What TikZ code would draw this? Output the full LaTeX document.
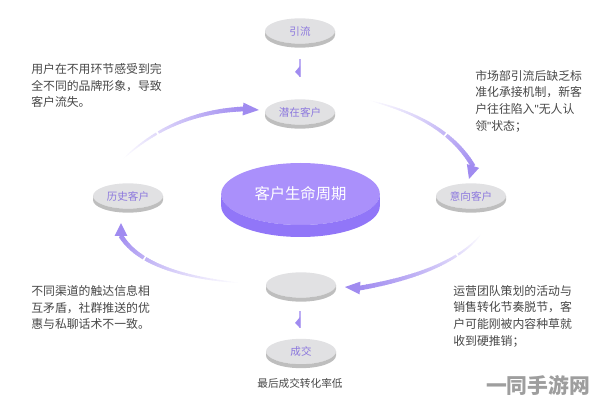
\documentclass[tikz,border=0pt]{standalone}
\usepackage{fontspec}
\setmainfont{Noto Sans CJK SC}
\newfontfamily\quotefont{Liberation Sans}
\usetikzlibrary{calc,shapes.geometric}

\definecolor{sweep}{HTML}{A08BF0}
\definecolor{disctop}{HTML}{E1E1E3}
\definecolor{discside}{HTML}{BEBEBE}
\definecolor{hubtop}{HTML}{AA90FB}
\definecolor{hubside}{HTML}{9176F8}
\definecolor{disclabel}{HTML}{8C78DE}
\definecolor{note}{HTML}{474747}

\newcommand{\qt}{{\quotefont\symbol{34}}}

% tail, control, neck, tip, index of the missing piece
\newcommand{\sweeparrow}[5]{
    \foreach \i in {0,...,49}{
        \pgfmathsetmacro{\t}{\i/50}
        \pgfmathsetmacro{\u}{(\i+1.2)/50}
        \pgfmathtruncatemacro{\shadeval}{100*\t^0.95}
        \pgfmathsetmacro{\widthval}{0.2+3.4*\t^0.6}
        \ifnum\i=#5\else
            \draw[line width=\widthval pt, draw=sweep!\shadeval!white]
                ($($(#1)!\t!(#2)$)!\t!($(#2)!\t!(#3)$)$) -- ($($(#1)!\u!(#2)$)!\u!($(#2)!\u!(#3)$)$);
        \fi
    }
    \fill[sweep] (#4) -- ($(#3)!4.8pt!90:(#4)$) -- ($(#3)!4.8pt!-90:(#4)$) -- cycle;
}

\begin{document}
\begin{tikzpicture}[
    x=0.75pt, y=-0.75pt,
    disc/.style={ellipse, fill=disctop, minimum width=52.5pt, minimum height=19pt, inner sep=0pt, outer sep=0pt,
        text=disclabel, font=\fontsize{7.9}{10}\selectfont},
    hub/.style={ellipse, fill=hubtop, minimum width=119pt, minimum height=46.5pt, inner sep=0pt, outer sep=0pt,
        text=white, font=\fontsize{11.5}{14}\selectfont},
    notebox/.style={anchor=north west, align=left, inner sep=0pt, text=note, font=\fontsize{8.9}{12.5}\selectfont},
    feed/.style={line width=0.8pt, draw=sweep!70!white},
    feedhead/.style={fill=sweep}
]
    \useasboundingbox (0,0) rectangle (594,403);

    \node[disc] (yinliu) at (300,31) {引流};
    \node[disc] (qianzai) at (300,112) {潜在客户};
    \node[disc] (lishi) at (128,196) {历史客户};
    \node[disc] (yixiang) at (471,196) {意向客户};
    \node[disc] (blank) at (301,285) {};
    \node[disc] (chengjiao) at (301,351.5) {成交};
    \node[hub] (hub) at (300.5,194) {客户生命周期};

    \foreach \n in {yinliu,qianzai,lishi,yixiang,blank,chengjiao}
        \fill[discside] (\n.west) -- ++(0,4) arc[start angle=180, end angle=360, x radius=26.25pt, y radius=9.5pt]
            -- (\n.east) arc[start angle=0, end angle=-180, x radius=26.25pt, y radius=9.5pt] -- cycle;
    \fill[hubside] (hub.west) -- ++(0,12) arc[start angle=180, end angle=360, x radius=59.5pt, y radius=23.25pt]
        -- (hub.east) arc[start angle=0, end angle=-180, x radius=59.5pt, y radius=23.25pt] -- cycle;

    \coordinate (a1) at (122,160);
    \coordinate (a2) at (172,112);
    \coordinate (a3) at (243,109);
    \coordinate (a4) at (259,110);
    \coordinate (b1) at (367,100);
    \coordinate (b2) at (445,118);
    \coordinate (b3) at (473,166);
    \coordinate (b4) at (469,179);
    \coordinate (c1) at (482,233);
    \coordinate (c2) at (452,272);
    \coordinate (c3) at (360,288);
    \coordinate (c4) at (345,287);
    \coordinate (d1) at (242,283);
    \coordinate (d2) at (145,275);
    \coordinate (d3) at (121,236);
    \coordinate (d4) at (121,223);

    \sweeparrow{a1}{a2}{a3}{a4}{16}
    \sweeparrow{b1}{b2}{b3}{b4}{31}
    \sweeparrow{c1}{c2}{c3}{c4}{15}
    \sweeparrow{d1}{d2}{d3}{d4}{33}

    \coordinate (e1) at (300,59);
    \coordinate (e2) at (300,77);
    \coordinate (f1) at (300,311);
    \coordinate (f2) at (300,328);
    \draw[feed] (e1) -- (e2);
    \fill[feedhead] (e2) -- ++(-5,-5) -- ++(5,-6) -- cycle;
    \draw[feed] (f1) -- (f2);
    \fill[feedhead] (f2) -- ++(-5,-5) -- ++(5,-6) -- cycle;

    \node[notebox] (noteA) at (31,63) {用户在不用环节感受到完\\全不同的品牌形象，导致\\客户流失。};
    \node[notebox] (noteB) at (475,70) {市场部引流后缺乏标\\准化承接机制，新客\\户往往陷入\qt 无人认\\领\qt 状态；};
    \node[notebox] (noteC) at (31,285) {不同渠道的触达信息相\\互矛盾，社群推送的优\\惠与私聊话术不一致。};
    \node[notebox] (noteD) at (453,285) {运营团队策划的活动与\\销售转化节奏脱节，客\\户可能刚被内容种草就\\收到硬推销；};
    \node[text=note, inner sep=0pt, font=\fontsize{8}{10}\selectfont] (last) at (300,383) {最后成交转化率低};
    \node[text=black!38, inner sep=0pt, font=\fontsize{15.6}{18}\selectfont\bfseries] (mark) at (538,385) {一同手游网};
\end{tikzpicture}
\end{document}
